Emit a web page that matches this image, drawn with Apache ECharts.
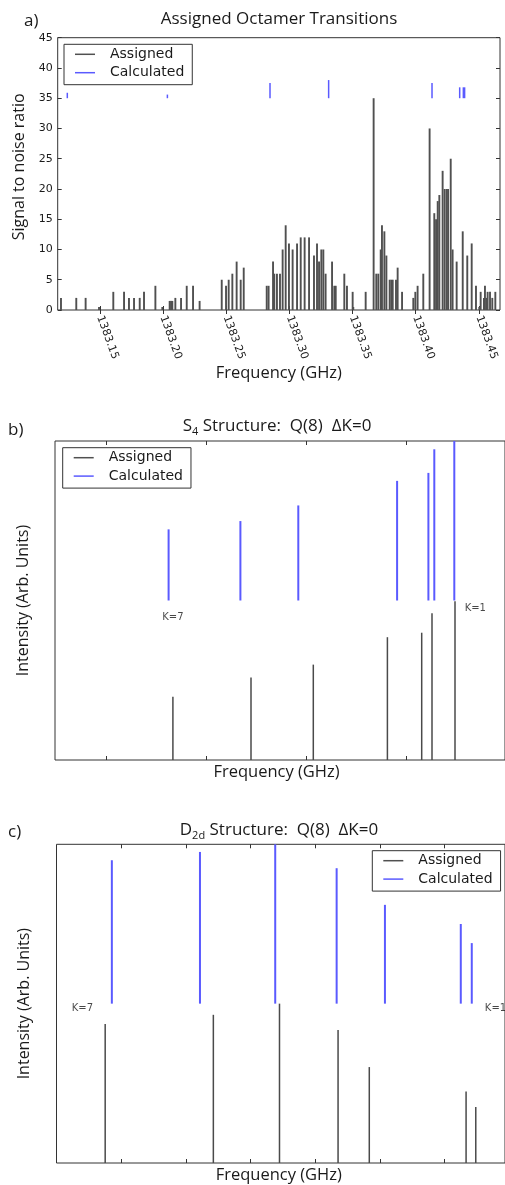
<!DOCTYPE html>
<html><head><meta charset="utf-8">
<script src="https://cdn.jsdelivr.net/npm/echarts@6/dist/echarts.min.js"></script>
<style>html,body{margin:0;padding:0;background:#fff}#c{width:505px;height:1185px}</style>
</head><body><div id="c"></div>
<script>
// ---------- Panel a: Assigned Octamer Transitions ----------
const aFreqTicks = [1383.15, 1383.20, 1383.25, 1383.30, 1383.35, 1383.40, 1383.45];
const aAssignedFreq = [
  1383.1193, 1383.1314, 1383.1388, 1383.1494, 1383.1607, 1383.1692, 1383.1731, 1383.1771, 1383.1816, 1383.1850,
  1383.1940, 1383.1995, 1383.2053, 1383.2064, 1383.2074, 1383.2098, 1383.2143, 1383.2188, 1383.2238, 1383.2290,
  1383.2465, 1383.2499, 1383.2520, 1383.2549, 1383.2583, 1383.2615, 1383.2639,
  1383.2821, 1383.2836, 1383.2871, 1383.2881, 1383.2902, 1383.2926, 1383.2947, 1383.2971, 1383.2997, 1383.3026,
  1383.3061, 1383.3090, 1383.3121, 1383.3156, 1383.3195, 1383.3219, 1383.3235, 1383.3253, 1383.3269, 1383.3287,
  1383.3338, 1383.3356, 1383.3367, 1383.3435, 1383.3456, 1383.3501, 1383.3506, 1383.3604,
  1383.3667, 1383.3688, 1383.3704, 1383.3723, 1383.3733, 1383.3752, 1383.3768, 1383.3794, 1383.3807, 1383.3818,
  1383.3844, 1383.3857, 1383.3892,
  1383.3981, 1383.3997, 1383.4015, 1383.4060, 1383.4110, 1383.4147, 1383.4161, 1383.4174, 1383.4187, 1383.4213,
  1383.4229, 1383.4245, 1383.4256, 1383.4277, 1383.4292, 1383.4324, 1383.4372, 1383.4408, 1383.4443, 1383.4477,
  1383.4503, 1383.4514, 1383.4540, 1383.4548, 1383.4561, 1383.4569, 1383.4588, 1383.4606, 1383.4630
];
const aAssignedSNR = [
  2, 2, 2, 0.5, 3, 3, 2, 2, 2, 3,
  4, 0.5, 1.5, 1.5, 1.5, 2, 2, 4, 4, 1.5,
  5, 4, 5, 6, 8, 5, 7,
  4, 4, 8, 6, 6, 6, 10, 14, 11, 10,
  11, 12, 12, 12, 9, 11, 8, 10, 10, 6,
  8, 4, 4, 6, 4, 3, 0.5, 3,
  35, 6, 6, 10, 14, 13, 9, 5, 5, 5,
  5, 7, 3,
  2, 3, 4, 6, 30, 16, 15, 18, 19, 23,
  20, 20, 20, 25, 10, 8, 13, 9, 11, 4,
  0.5, 3, 2, 4, 2, 3, 3, 2, 3
];
const aCalcFreq = [1383.1243, 1383.2035, 1383.2847, 1383.3311, 1383.4129, 1383.4348, 1383.4377, 1383.4387];
const aCalcTop  = [35.9, 35.6, 37.5, 38.0, 37.5, 36.8, 36.8, 36.8];
const aCalcBase = 35;

// ---------- Panel b: S4 structure ----------
const bTicks = [0, 1, 2, 3];
const bAssignedPos = [0.669, 1.450, 2.073, 2.814, 3.157, 3.260, 3.490];
const bAssignedInt = [19.8, 25.9, 29.9, 38.5, 39.9, 46.0, 49.8];
const bCalcPos = [0.626, 1.344, 1.923, 2.911, 3.224, 3.283, 3.483];
const bCalcTop = [72.3, 74.9, 79.8, 87.5, 90.0, 97.4, 100];
const bCalcBase = 50;
const bKLabels = ['K=7', 'K=1'];
const bKPos = [0.669, 3.693];
const bKInt = [44.8, 47.6];

// ---------- Panel c: D2d structure ----------
const cTicks = [0, 1, 2, 3, 4, 5];
const cAssignedPos = [-0.247, 1.426, 2.449, 3.355, 3.838, 5.335, 5.485];
const cAssignedInt = [43.6, 46.5, 50.0, 41.7, 30.1, 22.4, 17.6];
const cCalcPos = [-0.144, 1.219, 2.383, 3.333, 4.080, 5.253, 5.423];
const cCalcTop = [95.0, 97.6, 100, 92.5, 81.0, 75.0, 69.0];
const cCalcBase = 50;
const cKLabels = ['K=7', 'K=1'];
const cKPos = [-0.599, 5.790];
const cKInt = [48.4, 48.4];

// ---------- styling ----------
const BLACK = '#4a4a4a';
const BLUE = '#5a5aff';
const TXT = '#1a1a1a';
const AX = '#333';
const SANS = 'Open Sans';
const MPL = 'DejaVu Sans';

function segs(pos, base, top) {
  return pos.map((p, i) => [p, base, top[i]]);
}
function segSeries(name, data, xi, yi, color, width) {
  return {
    type: 'custom', name, xAxisIndex: xi, yAxisIndex: yi,
    itemStyle: { color },
    encode: { x: 0, y: [1, 2] },
    data,
    renderItem: (params, api) => {
      const p0 = api.coord([api.value(0), api.value(1)]);
      const p1 = api.coord([api.value(0), api.value(2)]);
      return { type: 'line', shape: { x1: p0[0], y1: p0[1], x2: p1[0], y2: p1[1] },
               style: { stroke: color, lineWidth: width } };
    }
  };
}
function kSeries(labels, xs, ys, xi, yi) {
  return {
    type: 'scatter', xAxisIndex: xi, yAxisIndex: yi, symbolSize: 0, silent: true,
    data: labels.map((l, i) => ({ name: l, value: [xs[i], ys[i]] })),
    label: { show: true, position: 'inside', formatter: p => p.name,
             fontFamily: MPL, fontSize: 10, color: TXT }
  };
}
function legend(left, top) {
  return {
    left, top, orient: 'vertical',
    data: [{ name: 'Assigned', icon: 'rect' }, { name: 'Calculated', icon: 'rect' }],
    itemWidth: 20, itemHeight: 1.5, itemGap: 2.4,
    padding: [2, 8, 4, 11],
    borderColor: '#333', borderWidth: 1, backgroundColor: '#fff',
    textStyle: { fontFamily: MPL, fontSize: 14, color: TXT, lineHeight: 16, padding: [0, 0, 0, 10] },
    selectedMode: false
  };
}
const tick = { show: true, inside: true, length: 4, lineStyle: { color: AX } };
const sub = { fontFamily: SANS, fontSize: 11, color: TXT, verticalAlign: 'bottom', lineHeight: 22 };
function txt(text, left, top, size, rich) {
  const t = { text, left, top, padding: 0, textAlign: 'center',
    textStyle: { fontFamily: SANS, fontSize: size, fontWeight: 'normal', color: TXT, lineHeight: 20 } };
  if (rich) { t.textStyle.rich = { s: sub }; t.textStyle.lineHeight = 22; }
  return t;
}
function panelTag(text, x, y) {
  return { type: 'text', x, y, silent: true,
    style: { text, fontFamily: SANS, fontSize: 17, fill: TXT, align: 'left', verticalAlign: 'middle' } };
}

const option = {
  animation: false,
  backgroundColor: '#fff',
  title: [
    txt('Assigned Octamer Transitions', 279, 9, 17),
    txt('S{s|4} Structure:  Q(8)  ΔK=0', 277, 415, 17, true),
    txt('D{s|2d} Structure:  Q(8)  ΔK=0', 279, 819, 17, true)
  ],
  graphic: [panelTag('a)', 24, 21.5), panelTag('b)', 8, 430), panelTag('c)', 8, 832.5)],
  legend: [legend(64, 44.3), legend(62.7, 447.7), legend(372.3, 850.7)],
  grid: [
    { left: 57.7, top: 37.7, width: 442.3, height: 272.3, show: true, borderColor: AX, borderWidth: 1 },
    { left: 55, top: 441, width: 451, height: 319, show: true, borderColor: AX, borderWidth: 1 },
    { left: 56.5, top: 844.3, width: 449.5, height: 319, show: true, borderColor: AX, borderWidth: 1 }
  ],
  xAxis: [
    { type: 'value', gridIndex: 0, min: 1383.1167, max: 1383.4667, splitLine: { show: false },
      axisLine: { show: false }, axisTick: Object.assign({ customValues: aFreqTicks }, tick),
      axisLabel: { customValues: aFreqTicks, rotate: -70, fontFamily: MPL, fontSize: 11, color: TXT, margin: 6,
                   formatter: v => v.toFixed(2) },
      name: 'Frequency (GHz)', nameLocation: 'middle', nameGap: 54,
      nameTextStyle: { fontFamily: SANS, fontSize: 16.5, color: TXT } },
    { type: 'value', gridIndex: 0, position: 'top', min: 1383.1167, max: 1383.4667, splitLine: { show: false },
      axisLine: { show: false }, axisTick: Object.assign({ customValues: aFreqTicks }, tick), axisLabel: { show: false } },
    { type: 'value', gridIndex: 1, min: -0.51, max: 3.99, splitLine: { show: false },
      axisLine: { show: false }, axisTick: Object.assign({ customValues: bTicks }, tick), axisLabel: { show: false },
      name: 'Frequency (GHz)', nameLocation: 'middle', nameGap: 4,
      nameTextStyle: { fontFamily: SANS, fontSize: 16.5, color: TXT, padding: [0, 7, 0, 0] } },
    { type: 'value', gridIndex: 1, position: 'top', min: -0.51, max: 3.99, splitLine: { show: false },
      axisLine: { show: false }, axisTick: Object.assign({ customValues: bTicks }, tick), axisLabel: { show: false } },
    { type: 'value', gridIndex: 2, min: -1, max: 5.937, splitLine: { show: false },
      axisLine: { show: false }, axisTick: Object.assign({ customValues: cTicks }, tick), axisLabel: { show: false },
      name: 'Frequency (GHz)', nameLocation: 'middle', nameGap: 4,
      nameTextStyle: { fontFamily: SANS, fontSize: 16.5, color: TXT, padding: [0, 4, 0, 0] } },
    { type: 'value', gridIndex: 2, position: 'top', min: -1, max: 5.937, splitLine: { show: false },
      axisLine: { show: false }, axisTick: Object.assign({ customValues: cTicks }, tick), axisLabel: { show: false } }
  ],
  yAxis: [
    { type: 'value', gridIndex: 0, min: 0, max: 45, interval: 5, splitLine: { show: false },
      axisLine: { show: false }, axisTick: tick,
      axisLabel: { fontFamily: MPL, fontSize: 11, color: TXT, margin: 5 },
      name: 'Signal to noise ratio', nameLocation: 'middle', nameGap: 30,
      nameTextStyle: { fontFamily: SANS, fontSize: 16, color: TXT, padding: [0, 0, 0, 14] } },
    { type: 'value', gridIndex: 0, position: 'right', min: 0, max: 45, interval: 5, splitLine: { show: false },
      axisLine: { show: false }, axisTick: tick, axisLabel: { show: false } },
    { type: 'value', gridIndex: 1, min: 0, max: 100, splitLine: { show: false },
      axisLine: { show: false }, axisTick: { show: false }, axisLabel: { show: false },
      name: 'Intensity (Arb. Units)', nameLocation: 'middle', nameGap: 24,
      nameTextStyle: { fontFamily: SANS, fontSize: 16, color: TXT } },
    { type: 'value', gridIndex: 2, min: 0, max: 100, splitLine: { show: false },
      axisLine: { show: false }, axisTick: { show: false }, axisLabel: { show: false },
      name: 'Intensity (Arb. Units)', nameLocation: 'middle', nameGap: 24,
      nameTextStyle: { fontFamily: SANS, fontSize: 16, color: TXT } }
  ],
  series: [
    segSeries('Assigned', segs(aAssignedFreq, 0, aAssignedSNR), 0, 0, '#505050', 1.9),
    segSeries('Calculated', segs(aCalcFreq, aCalcBase, aCalcTop), 0, 0, BLUE, 1.5),
    segSeries('Assigned', segs(bAssignedPos, 0, bAssignedInt), 2, 2, BLACK, 1.5),
    segSeries('Calculated', segs(bCalcPos, bCalcBase, bCalcTop), 2, 2, BLUE, 2),
    kSeries(bKLabels, bKPos, bKInt, 2, 2),
    segSeries('Assigned', segs(cAssignedPos, 0, cAssignedInt), 4, 3, BLACK, 1.5),
    segSeries('Calculated', segs(cCalcPos, cCalcBase, cCalcTop), 4, 3, BLUE, 2),
    kSeries(cKLabels, cKPos, cKInt, 4, 3)
  ]
};
const chart = echarts.init(document.getElementById('c'), null, { renderer: 'canvas' });
chart.setOption(option);
</script>
</body></html>
